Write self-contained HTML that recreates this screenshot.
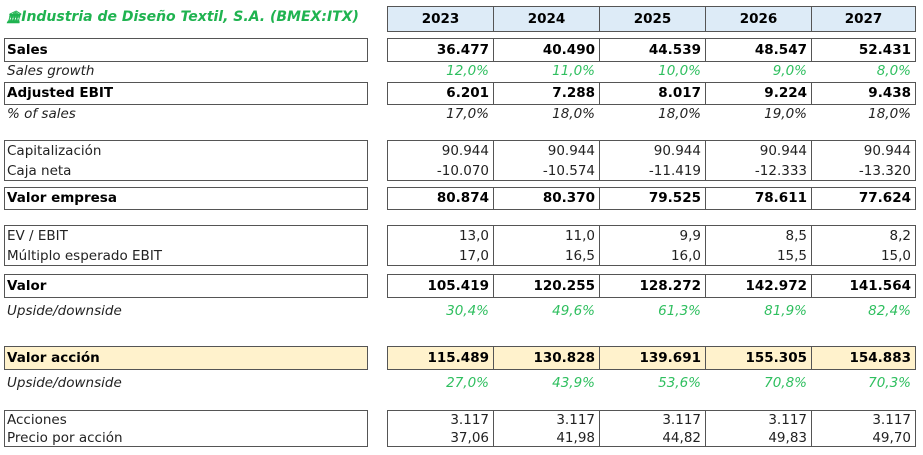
<!DOCTYPE html>
<html><head><meta charset="utf-8">
<style>
body{margin:0;width:923px;height:455px;background:#fff;font-family:"DejaVu Sans","Liberation Sans",sans-serif;font-size:13.5px;color:#222;position:relative;overflow:hidden}
.a{position:absolute;box-sizing:border-box}
.box{border:1px solid #555}
.t{position:absolute;white-space:nowrap;line-height:18px}
.b{font-weight:bold;color:#000}
.i{font-style:italic}
.g{color:#2fbf5f}
.r{text-align:right}
</style></head><body>
<div class="t b i" style="left:6px;top:8px;color:#1fb350;font-size:14px"><span style="font-size:12px">🏛</span>Industria de Diseño Textil, S.A. (BMEX:ITX)</div>
<div id="root"></div>
<script>
const years=["2023","2024","2025","2026","2027"];
const sales=["36.477","40.490","44.539","48.547","52.431"];
const salesGrowth=["12,0%","11,0%","10,0%","9,0%","8,0%"];
const ebit=["6.201","7.288","8.017","9.224","9.438"];
const pctSales=["17,0%","18,0%","18,0%","19,0%","18,0%"];
const capital=["90.944","90.944","90.944","90.944","90.944"];
const caja=["-10.070","-10.574","-11.419","-12.333","-13.320"];
const ev=["80.874","80.370","79.525","78.611","77.624"];
const evEbit=["13,0","11,0","9,9","8,5","8,2"];
const multiplo=["17,0","16,5","16,0","15,5","15,0"];
const valor=["105.419","120.255","128.272","142.972","141.564"];
const upside1=["30,4%","49,6%","61,3%","81,9%","82,4%"];
const valorAccion=["115.489","130.828","139.691","155.305","154.883"];
const upside2=["27,0%","43,9%","53,6%","70,8%","70,3%"];
const acciones=["3.117","3.117","3.117","3.117","3.117"];
const precio=["37,06","41,98","44,82","49,83","49,70"];

const colX=[387,493,599,705,811,915];
const root=document.getElementById('root');
function el(cls,l,t,w,h,txt,name){
  const d=document.createElement('div');
  d.className=cls;
  d.style.left=l+'px';d.style.top=t+'px';
  if(w!=null)d.style.width=w+'px';
  if(h!=null)d.style.height=h+'px';
  if(txt!=null)d.textContent=txt;
  
  
  root.appendChild(d);return d;
}
years.forEach((y,i)=>{
  const d=el('a box b',colX[i],6,colX[i+1]-colX[i]+1,26,null,'year-header-'+y);
  d.style.background='#ddebf7';d.style.textAlign='center';d.style.lineHeight='24px';d.style.fontSize='13.5px';d.textContent=y;
});
function boxes(top,h,bg,name){
  const l=el('a box',4,top,364,h,null,name+'-label-box');if(bg)l.style.background=bg;
  for(let i=0;i<5;i++){const c=el('a box',colX[i],top,colX[i+1]-colX[i]+1,h,null,name+'-cell-box-'+i);if(bg)c.style.background=bg;}
}
function row(y,label,vals,cls,vcls,name){
  el('t '+cls,7,y-9,null,null,label,name+'-label');
  vals.forEach((v,i)=>{el('t r '+vcls,colX[i],y-9,colX[i+1]-colX[i]-4,null,v,name+'-value-'+years[i]);});
}
boxes(38,24,null,'sales');row(50,'Sales',sales,'b','b','sales');
row(71,'Sales growth',salesGrowth,'i','i g','sales-growth');
boxes(82,23,null,'ebit');row(93,'Adjusted EBIT',ebit,'b','b','adjusted-ebit');
row(114,'% of sales',pctSales,'i','i','pct-of-sales');
boxes(140,41,null,'cap');row(151,'Capitalización',capital,'','','capitalizacion');row(171,'Caja neta',caja,'','','caja-neta');
boxes(187,23,null,'ev');row(198,'Valor empresa',ev,'b','b','valor-empresa');
boxes(225,41,null,'mult');row(236,'EV / EBIT',evEbit,'','','ev-ebit');row(256,'Múltiplo esperado EBIT',multiplo,'','','multiplo-ebit');
boxes(274,24,null,'valor');row(286,'Valor',valor,'b','b','valor');
row(311,'Upside/downside',upside1,'i','i g','upside-valor');
boxes(346,24,'#fff2cc','valor-accion');row(358,'Valor acción',valorAccion,'b','b','valor-accion');
row(383,'Upside/downside',upside2,'i','i g','upside-accion');
boxes(410,37,null,'acc');row(420,'Acciones',acciones,'','','acciones');row(438,'Precio por acción',precio,'','','precio-por-accion');
</script>
</body></html>
